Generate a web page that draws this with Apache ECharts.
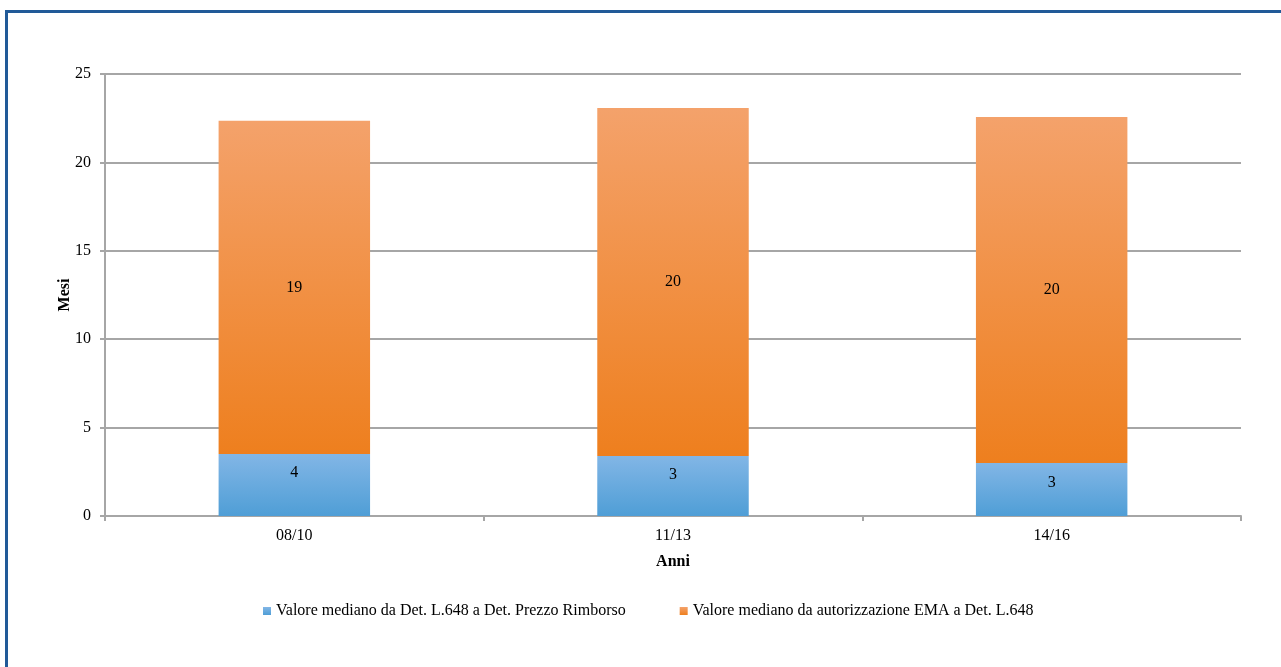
<!DOCTYPE html>
<html>
<head>
<meta charset="utf-8">
<script src="https://cdn.jsdelivr.net/npm/echarts@6/dist/echarts.min.js"></script>
<style>
  html, body { margin: 0; padding: 0; background: #fff; }
  #chart { width: 1281px; height: 667px; }
</style>
</head>
<body>
<div id="chart"></div>
<script>
// Periods on the x axis
const categories = ['08/10', '11/13', '14/16'];
// Median months from Det. L.648 to Det. Prezzo Rimborso
const detToPrice = [3.5, 3.4, 3.0];
// Median months from EMA authorisation to Det. L.648
const emaToDet = [18.85, 19.68, 19.57];
const seriesNames = [
  'Valore mediano da Det. L.648 a Det. Prezzo Rimborso',
  'Valore mediano da autorizzazione EMA a Det. L.648'
];
const yTicks = { min: 0, max: 25, interval: 5 };

const font = '"Liberation Serif", "Times New Roman", serif';
const axisGray = '#a6a6a6';
// vertical nudge of the labels in the lower segments
const lowerLabelShift = [-12, -11, -7];

function vGrad(top, bottom) {
  return new echarts.graphic.LinearGradient(0, 0, 0, 1, [
    { offset: 0, color: top },
    { offset: 1, color: bottom }
  ]);
}

const chart = echarts.init(document.getElementById('chart'), null, { renderer: 'canvas' });

const labelStyle = {
  show: true,
  position: 'inside',
  color: '#000',
  fontFamily: font,
  fontSize: 16,
  formatter: p => Math.round(p.value)
};

chart.setOption({
  animation: false,
  backgroundColor: '#fff',
  graphic: [{
    type: 'rect',
    left: 4, top: 9,
    shape: { width: 1400, height: 800 },
    style: { fill: 'none', stroke: '#215a98', lineWidth: 3 },
    silent: true
  }],
  grid: { left: 105, right: 40, top: 74, bottom: 151, containLabel: false },
  legend: {
    top: 598,
    left: 258,
    itemWidth: 8,
    itemHeight: 8,
    itemGap: 54,
    icon: 'rect',
    textStyle: { fontFamily: font, fontSize: 16, color: '#000' },
    data: seriesNames
  },
  xAxis: {
    type: 'category',
    data: categories,
    name: 'Anni',
    nameLocation: 'middle',
    nameGap: 38,
    nameMoveOverlap: false,
    nameTextStyle: { fontFamily: font, fontSize: 16, fontWeight: 'bold', color: '#000' },
    axisLine: { lineStyle: { color: axisGray, width: 2 } },
    axisTick: { show: true, alignWithLabel: false, length: 5, lineStyle: { color: axisGray, width: 2 } },
    axisLabel: { fontFamily: font, fontSize: 16, color: '#000', margin: 12 }
  },
  yAxis: {
    type: 'value',
    min: yTicks.min,
    max: yTicks.max,
    interval: yTicks.interval,
    name: 'Mesi',
    nameLocation: 'middle',
    nameGap: 32,
    nameMoveOverlap: false,
    nameRotate: 90,
    nameTextStyle: { fontFamily: font, fontSize: 16, fontWeight: 'bold', color: '#000' },
    axisLine: { show: true, lineStyle: { color: axisGray, width: 2 } },
    axisTick: { show: true, length: 5, lineStyle: { color: axisGray, width: 2 } },
    axisLabel: { fontFamily: font, fontSize: 16, color: '#000', margin: 14 },
    splitLine: { show: true, lineStyle: { color: axisGray, width: 2 } }
  },
  series: [
    {
      name: seriesNames[0],
      type: 'bar',
      stack: 'tot',
      barWidth: '40%',
      data: detToPrice.map((v, i) => ({ value: v, label: { offset: [0, lowerLabelShift[i]] } })),
      itemStyle: { color: vGrad('#82b6e6', '#4f9ed6') },
      label: labelStyle
    },
    {
      name: seriesNames[1],
      type: 'bar',
      stack: 'tot',
      barWidth: '40%',
      data: emaToDet,
      itemStyle: { color: vGrad('#f4a26b', '#ee7f1e') },
      label: labelStyle
    }
  ]
});
</script>
</body>
</html>
